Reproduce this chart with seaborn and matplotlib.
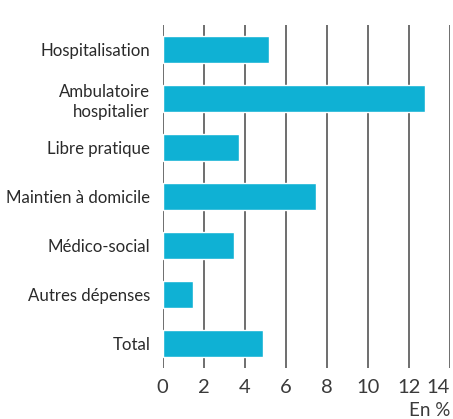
import pandas as pd
import matplotlib.pyplot as plt
import seaborn as sns

# Données
categories = ['Hospitalisation', 'Ambulatoire\nhospitalier', 'Libre pratique',
              'Maintien à domicile', 'Médico-social', 'Autres dépenses', 'Total']
valeurs = [5.2, 12.8, 3.7, 7.5, 3.5, 1.5, 4.9]
ticks = [0, 2, 4, 6, 8, 10, 12, 14]

df = pd.DataFrame({'categorie': categories, 'valeur': valeurs})

sns.set_style('white')
plt.rcParams['font.family'] = ['Lato', 'DejaVu Sans']

fig = plt.figure(figsize=(4.53, 4.19), dpi=100)
ax = fig.add_axes([0.359, 0.122, 0.634, 0.818])

sns.barplot(data=df, y='categorie', x='valeur', color='#0fb1d4', saturation=1,
            width=0.545, orient='h', ax=ax, zorder=3)

ax.set_xlim(0, 14)
ax.set_ylim(6.5, -0.5)
ax.set_xticks(ticks)
ax.set_xticklabels([str(t) for t in ticks], fontsize=14.5, color='#3a3a3a')
ax.tick_params(axis='x', length=0, pad=8)
ax.tick_params(axis='y', length=0, pad=9, labelsize=12.1, labelcolor='#2a2a2a')
ax.get_xticklabels()[-1].set_horizontalalignment('right')
for t in ticks:
    ax.axvline(t, color='#6e6e6e', linewidth=1.4, zorder=1)
for s in ax.spines.values():
    s.set_visible(False)
ax.set_xlabel('')
ax.set_ylabel('')
for lab in ax.get_yticklabels():
    lab.set_multialignment('right')
    lab.set_linespacing(1.3)

fig.text(0.995, 0.0, 'En %', ha='right', va='bottom', fontsize=13.5,
         color='#3a3a3a')

plt.savefig('out.png', dpi=100)
